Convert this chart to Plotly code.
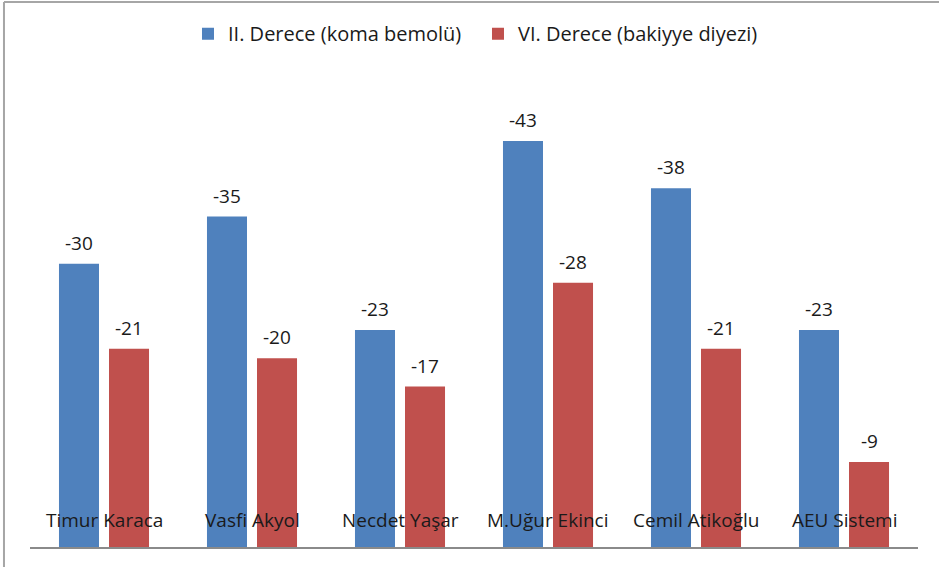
import plotly.graph_objects as go

# Komma deviations per tuning system (values in cents)
systems = ["Timur Karaca", "Vasfi Akyol", "Necdet Yaşar", "M.Uğur Ekinci", "Cemil Atikoğlu", "AEU Sistemi"]
series_names = ["II. Derece (koma bemolü)", "VI. Derece (bakiyye diyezi)"]
second_degree = [-30, -35, -23, -43, -38, -23]
sixth_degree = [-21, -20, -17, -28, -21, -9]

colors = ["#4F81BD", "#C0504D"]
font_family = "Open Sans, Noto Sans, sans-serif"
text_color = "#1a1a1a"

fig = go.Figure()
for name, vals, col in zip(series_names, [second_degree, sixth_degree], colors):
    fig.add_trace(go.Bar(
        x=systems, y=vals, name=name,
        marker=dict(color=col, line=dict(width=0)),
    ))

annotations = []
# value labels above each bar
for vals, dx in [(second_degree, -25), (sixth_degree, 25)]:
    for cat, v in zip(systems, vals):
        annotations.append(dict(
            x=cat, y=v, xref="x", yref="y", text=str(v), showarrow=False,
            xshift=dx, yshift=21, yanchor="middle",
            font=dict(family=font_family, size=19, color=text_color),
        ))
# category names drawn inside the plot, just above the baseline
for cat in systems:
    annotations.append(dict(
        x=cat, y=0, xref="x", yref="y", text=cat, showarrow=False,
        yshift=27, yanchor="middle",
        font=dict(family=font_family, size=19, color=text_color),
    ))

fig.update_layout(
    width=939, height=567,
    margin=dict(l=30, r=21, t=75, b=20),
    paper_bgcolor="white", plot_bgcolor="white",
    barmode="group", bargap=0.324, bargroupgap=0.2,
    showlegend=True,
    legend=dict(
        orientation="h", x=0.5045, xanchor="center", y=0.975, yref="container",
        yanchor="top", font=dict(family=font_family, size=20, color=text_color),
        entrywidth=245, entrywidthmode="pixels",
        itemsizing="constant", traceorder="normal",
    ),
    xaxis=dict(showline=True, linecolor="#8a8a8a", linewidth=1.5,
               showticklabels=False, ticks="", showgrid=False, zeroline=False),
    yaxis=dict(range=[0, -50], visible=False, showgrid=False, zeroline=False),
    annotations=annotations,
    shapes=[
        dict(type="line", xref="paper", yref="paper", x0=-0.0293, x1=1.03,
             y0=1.1547, y1=1.1547, line=dict(color="#a6a6a6", width=2)),
        dict(type="line", xref="paper", yref="paper", x0=-0.0293, x1=-0.0293,
             y0=1.1547, y1=-0.1, line=dict(color="#a6a6a6", width=2)),
    ],
)

fig.write_html("out.html")
